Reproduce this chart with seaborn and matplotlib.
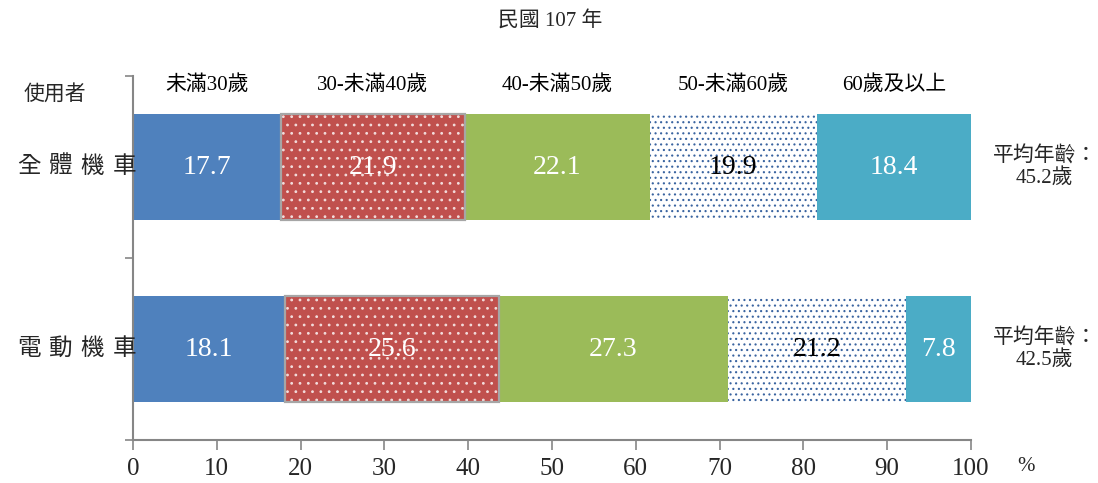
import matplotlib
matplotlib.use("Agg")
import matplotlib.pyplot as plt
from matplotlib.patches import Rectangle
import seaborn as sns
import numpy as np
import pandas as pd

# data
age_groups = ['未滿30歲', '30-未滿40歲', '40-未滿50歲', '50-未滿60歲', '60歲及以上']
users = ['全體機車', '電動機車']
all_moto = [17.7, 21.9, 22.1, 19.9, 18.4]
electric = [18.1, 25.6, 27.3, 21.2, 7.8]
avg_age = [45.2, 42.5]

colors = ['#4F81BD', '#C0504D', '#9BBB59', '#FFFFFF', '#4BACC6']
text_colors = ['white', 'white', 'white', 'black', 'white']

sns.set_theme(style='white')
plt.rcParams['font.family'] = ['Liberation Serif', 'Noto Sans CJK TC', 'DejaVu Sans']
plt.rcParams['hatch.linewidth'] = 0.8

vals = np.array([all_moto, electric])
cum = np.cumsum(vals, axis=1)
left = cum - vals

fig = plt.figure(figsize=(10.98, 4.83), dpi=100)
ax = fig.add_axes([0.1211, 0.0890, 0.7632, 0.7536])

bar_h = 0.58
seg_patches = {}
# draw cumulative bars from the full length down, so each segment sits on top
for i in reversed(range(len(age_groups))):
    df = pd.DataFrame({'user': users, 'value': cum[:, i]})
    sns.barplot(data=df, x='value', y='user', color=colors[i], saturation=1,
                width=bar_h, errorbar=None, orient='h', ax=ax)
    seg_patches[i] = list(ax.containers[-1])

for p in seg_patches[1]:
    p.set_hatch('..')
    p.set_edgecolor('#F2DCDB')
    p.set_linewidth(0)
for p in seg_patches[3]:
    p.set_hatch('...')
    p.set_edgecolor('#3A64A0')
    p.set_linewidth(0)
for p in seg_patches[0] + seg_patches[2] + seg_patches[4]:
    p.set_linewidth(0)

# grey outline around the 30-40 segments
for j in range(len(users)):
    ax.add_patch(Rectangle((left[j, 1], j - bar_h / 2), vals[j, 1], bar_h,
                           fill=False, ec='#A6A6A6', lw=1.6, zorder=5))

# value labels
for j in range(len(users)):
    for i in range(len(age_groups)):
        ax.text(left[j, i] + vals[j, i] / 2, j, f'{vals[j, i]:.1f}',
                ha='center', va='center', fontsize=20, color=text_colors[i],
                zorder=6)

# age-group headers above the top bar
for i, g in enumerate(age_groups):
    ax.text(left[0, i] + vals[0, i] / 2, -0.45, g, ha='center', va='center',
            fontsize=15, color='black')

# average ages on the right
for j, a in enumerate(avg_age):
    ax.text(1.088, j, f'平均年齡：\n{a}歲', transform=ax.get_yaxis_transform(),
            ha='center', va='center', fontsize=15, linespacing=1.1)

# row labels, one character at a time to get the wide letter spacing
for j, u in enumerate(users):
    for k, ch in enumerate(u):
        ax.text(-0.124 + k * 0.0378, j, ch, transform=ax.get_yaxis_transform(),
                ha='center', va='center', fontsize=17)

ax.set_xlim(0, 100)
ax.set_ylim(1.5, -0.5)
ax.set_xticks(range(0, 101, 10))
ax.set_xticklabels([str(v) for v in range(0, 101, 10)], fontsize=18)
ax.set_yticks([0, 1])
ax.set_yticklabels(['', ''])
ax.set_yticks([-0.5, 0.5, 1.5], minor=True)
ax.tick_params(axis='y', which='major', length=0)
ax.tick_params(axis='y', which='minor', length=6, width=1.2, color='#868686', left=True)
ax.tick_params(axis='x', length=7, width=1.2, color='#868686', bottom=True, pad=6)
ax.set_xlabel('')
ax.set_ylabel('')

for s in ['top', 'right']:
    ax.spines[s].set_visible(False)
for s in ['left', 'bottom']:
    ax.spines[s].set_color('#868686')
    ax.spines[s].set_linewidth(1.5)

fig.text(0.501, 0.958, '民國 107 年', ha='center', va='center', fontsize=15)
fig.text(0.050, 0.803, '使用者', ha='center', va='center', fontsize=15)
fig.text(0.934, 0.035, '%', ha='center', va='center', fontsize=15)

fig.savefig('out.png', dpi=100)
